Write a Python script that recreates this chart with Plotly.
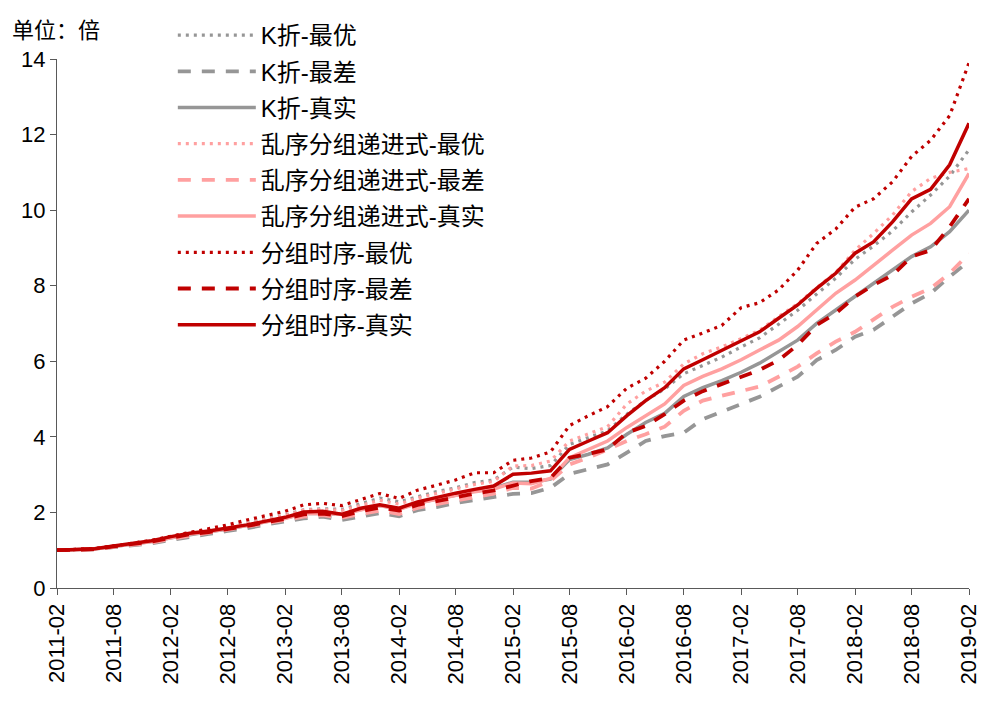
import plotly.graph_objects as go

dates = [
    "2011-02-01", "2011-04-01", "2011-06-01", "2011-08-01", "2011-10-01", "2011-12-01",
    "2012-02-01", "2012-04-01", "2012-06-01", "2012-08-01", "2012-10-01", "2012-12-01",
    "2013-02-01", "2013-04-01", "2013-06-01", "2013-08-01", "2013-10-01", "2013-12-01",
    "2014-02-01", "2014-04-01", "2014-06-01", "2014-08-01", "2014-10-01", "2014-12-01",
    "2015-02-01", "2015-04-01", "2015-06-01", "2015-08-01", "2015-10-01", "2015-12-01",
    "2016-02-01", "2016-04-01", "2016-06-01", "2016-08-01", "2016-10-01", "2016-12-01",
    "2017-02-01", "2017-04-01", "2017-06-01", "2017-08-01", "2017-10-01", "2017-12-01",
    "2018-02-01", "2018-04-01", "2018-06-01", "2018-08-01", "2018-10-01", "2018-12-01",
    "2019-02-01",
]

kfold_best = [1.00, 1.02, 1.04, 1.11, 1.18, 1.25, 1.36, 1.46, 1.53, 1.61, 1.71, 1.82, 1.93, 2.07, 2.10,
              2.08, 2.22, 2.38, 2.28, 2.42, 2.55, 2.65, 2.79, 2.86,
              3.20, 3.16, 3.24, 3.80, 3.98, 4.16, 4.60, 4.96, 5.27, 5.67, 5.89, 6.11, 6.38,
              6.62, 6.98, 7.35, 7.78, 8.20, 8.70, 9.05, 9.45, 9.95, 10.40, 10.90, 11.60]
kfold_worst = [1.00, 1.01, 1.02, 1.08, 1.13, 1.18, 1.27, 1.34, 1.43, 1.51, 1.58, 1.68, 1.76, 1.84, 1.89,
               1.80, 1.89, 1.98, 1.90, 2.06, 2.14, 2.25, 2.33, 2.40,
               2.49, 2.51, 2.65, 3.02, 3.14, 3.27, 3.58, 3.89, 4.02, 4.11, 4.47, 4.66, 4.85,
               5.06, 5.33, 5.59, 6.03, 6.30, 6.65, 6.83, 7.18, 7.53, 7.80, 8.24, 8.65]
kfold_real = [1.00, 1.02, 1.03, 1.10, 1.17, 1.23, 1.33, 1.42, 1.49, 1.56, 1.65, 1.75, 1.85, 1.97, 1.98,
              1.95, 2.08, 2.18, 2.10, 2.25, 2.36, 2.47, 2.56, 2.64,
              2.80, 2.80, 2.88, 3.40, 3.54, 3.71, 4.07, 4.38, 4.62, 5.07, 5.30, 5.49, 5.71,
              5.95, 6.25, 6.56, 7.00, 7.36, 7.71, 8.06, 8.41, 8.77, 9.03, 9.43, 10.00]

shuffle_best = [1.00, 1.02, 1.04, 1.11, 1.18, 1.25, 1.36, 1.46, 1.53, 1.61, 1.71, 1.81, 1.92, 2.06, 2.08,
                2.05, 2.18, 2.32, 2.22, 2.38, 2.50, 2.62, 2.74, 2.82,
                3.23, 3.24, 3.36, 3.89, 4.07, 4.27, 4.87, 5.21, 5.45, 5.93, 6.20, 6.38, 6.60,
                6.82, 7.18, 7.52, 7.95, 8.35, 8.94, 9.38, 9.87, 10.49, 10.84, 11.00, 11.10]
shuffle_worst = [1.00, 1.01, 1.02, 1.09, 1.15, 1.20, 1.30, 1.38, 1.45, 1.53, 1.61, 1.71, 1.80, 1.89, 1.93,
                 1.86, 1.96, 2.05, 1.96, 2.12, 2.22, 2.32, 2.42, 2.50,
                 2.65, 2.63, 2.83, 3.27, 3.45, 3.67, 3.89, 4.07, 4.27, 4.69, 4.96, 5.09, 5.21,
                 5.33, 5.59, 5.86, 6.21, 6.52, 6.78, 7.09, 7.44, 7.71, 7.93, 8.33, 8.85]
shuffle_real = [1.00, 1.02, 1.03, 1.10, 1.17, 1.23, 1.33, 1.43, 1.49, 1.56, 1.65, 1.75, 1.84, 1.97, 1.98,
                1.95, 2.06, 2.18, 2.08, 2.24, 2.35, 2.45, 2.55, 2.62,
                2.78, 2.76, 2.90, 3.45, 3.67, 3.89, 4.25, 4.56, 4.87, 5.36, 5.60, 5.80, 6.04,
                6.30, 6.56, 6.92, 7.36, 7.80, 8.15, 8.55, 8.94, 9.34, 9.65, 10.09, 10.97]

ts_best = [1.00, 1.02, 1.04, 1.11, 1.18, 1.26, 1.37, 1.47, 1.56, 1.67, 1.80, 1.91, 2.03, 2.20, 2.24,
           2.18, 2.33, 2.50, 2.37, 2.59, 2.72, 2.86, 3.05, 3.05,
           3.38, 3.44, 3.60, 4.30, 4.56, 4.80, 5.29, 5.55, 6.00, 6.56, 6.75, 6.95, 7.42,
           7.55, 7.89, 8.41, 9.12, 9.50, 10.08, 10.30, 10.75, 11.42, 11.85, 12.50, 13.90]
ts_worst = [1.00, 1.02, 1.03, 1.10, 1.17, 1.23, 1.33, 1.42, 1.48, 1.55, 1.64, 1.74, 1.83, 1.95, 1.97,
            1.90, 2.03, 2.13, 2.05, 2.20, 2.30, 2.42, 2.50, 2.58,
            2.72, 2.83, 2.91, 3.45, 3.55, 3.67, 4.11, 4.29, 4.60, 4.96, 5.21, 5.40, 5.58,
            5.77, 6.03, 6.43, 6.96, 7.27, 7.71, 8.02, 8.28, 8.77, 8.94, 9.56, 10.30]
ts_real = [1.00, 1.02, 1.04, 1.11, 1.18, 1.25, 1.36, 1.45, 1.51, 1.58, 1.67, 1.77, 1.87, 2.01, 2.03,
           1.95, 2.11, 2.20, 2.11, 2.28, 2.40, 2.51, 2.61, 2.70,
           3.01, 3.04, 3.10, 3.67, 3.89, 4.11, 4.56, 4.96, 5.30, 5.80, 6.04, 6.29, 6.56,
           6.78, 7.14, 7.49, 7.93, 8.33, 8.86, 9.16, 9.69, 10.30, 10.55, 11.20, 12.30]

names = ["K折-最优", "K折-最差", "K折-真实",
         "乱序分组递进式-最优", "乱序分组递进式-最差", "乱序分组递进式-真实",
         "分组时序-最优", "分组时序-最差", "分组时序-真实"]
series = [kfold_best, kfold_worst, kfold_real,
          shuffle_best, shuffle_worst, shuffle_real,
          ts_best, ts_worst, ts_real]

GRAY = "#969696"
PINK = "#FFA0A0"
RED = "#C00000"
colors = [GRAY, GRAY, GRAY, PINK, PINK, PINK, RED, RED, RED]
styles = ["dot", "dash", "solid"] * 3

fig = go.Figure()
for i, (nm, ys) in enumerate(zip(names, series)):
    st = styles[i]
    if st == "dot":
        line = dict(color=colors[i], width=3.2, dash="3px,5px")
    elif st == "dash":
        line = dict(color=colors[i], width=3.8, dash="13px,11px")
    else:
        line = dict(color=colors[i], width=3.5)
    fig.add_trace(go.Scatter(x=dates, y=ys, mode="lines", name=nm, line=line,
                             legendgroup="g%d" % i, hoverinfo="skip"))

FONT = "Liberation Sans, Arial, Noto Sans CJK SC"
# the page body adds an 8px offset, so margins are reduced by 8px on the left/top
fig.update_layout(
    width=993, height=705,
    margin=dict(l=49, r=32, t=51, b=125, autoexpand=False),
    paper_bgcolor="white", plot_bgcolor="white",
    font=dict(family=FONT, size=21, color="#000000"),
    showlegend=True,
    legend=dict(x=0.127, y=1.087, xanchor="left", yanchor="top",
                bgcolor="rgba(0,0,0,0)", itemwidth=78,
                font=dict(family="Liberation Sans, Noto Sans CJK SC", size=24, color="#000000"),
                tracegroupgap=2, traceorder="grouped"),
    xaxis=dict(type="date", range=["2011-02-01", "2019-02-01"],
               tick0="2011-02-01", dtick="M6", tickformat="%Y-%m", tickangle=-90,
               showgrid=False, zeroline=False, showline=True, linecolor="#595959", linewidth=1,
               ticks="outside", ticklen=6, tickcolor="#595959",
               tickfont=dict(family=FONT, size=22, color="#000000")),
    yaxis=dict(range=[0, 14], dtick=2, showgrid=False, zeroline=False,
               showline=True, linecolor="#595959", linewidth=1,
               ticks="outside", ticklen=6, tickcolor="#595959",
               tickfont=dict(family=FONT, size=22, color="#000000")),
    annotations=[dict(text="单位：倍", xref="paper", yref="paper", x=-0.051, y=1.092,
                      xanchor="left", yanchor="top", showarrow=False,
                      font=dict(family="Noto Sans CJK SC", size=22, color="#000000"))],
)

fig.write_html("out.html")
